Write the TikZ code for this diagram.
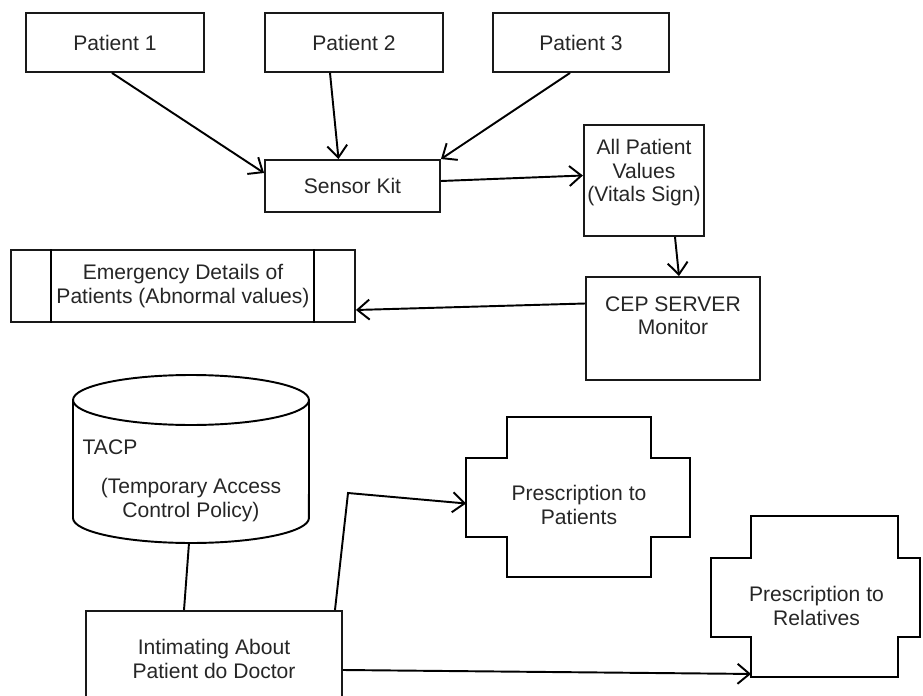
\documentclass[tikz,border=0pt]{standalone}
\usepackage{fontspec}
\setmainfont{Liberation Sans}
\usepackage{tikz}
\usetikzlibrary{arrows.meta}
\tikzset{>={Straight Barb[length=2.4mm,width=4mm]}, every path/.style={line width=1.1pt},
	arr/.style={draw,->}}
\tikzstyle{box}=[rectangle,draw=black!90,line width=1.1pt,inner sep=2pt,align=center,text=black!85,font=\fontsize{12}{13.5}\selectfont]
\tikzstyle{plain}=[rectangle,inner sep=2pt,align=center,text=black!85,font=\fontsize{12}{13.5}\selectfont]

\begin{document}
\begin{tikzpicture}[x=0.02cm,y=-0.02cm]
	\useasboundingbox (0,0) rectangle (923,696);
	% patients
	\node at (115,42.5) [box,minimum width=3.56cm,minimum height=1.18cm] (p1) {Patient 1};
	\node at (354,42.5) [box,minimum width=3.56cm,minimum height=1.18cm] (p2) {Patient 2};
	\node at (581,42.5) [box,minimum width=3.52cm,minimum height=1.18cm] (p3) {Patient 3};
	\node at (352.5,186) [box,minimum width=3.5cm,minimum height=1.04cm] (sensor) {Sensor Kit};
	\node at (644,180.5) [box,minimum width=2.4cm,minimum height=2.22cm,text depth=0.4cm] (values) {All Patient\\Values\\(Vitals Sign)};
	\node at (673,328.5) [box,minimum width=3.48cm,minimum height=2.06cm,text depth=0.52cm] (cep) {CEP SERVER\\Monitor};
	\node at (183,286) [box,minimum width=6.88cm,minimum height=1.44cm] (emg) {Emergency Details of\\Patients (Abnormal values)};
	\draw ([xshift=0.82cm]emg.north west) -- ([xshift=0.82cm]emg.south west);
	\draw ([xshift=-0.84cm]emg.north east) -- ([xshift=-0.84cm]emg.south east);
	% TACP store
	\draw (73,400) -- (73,518) arc[start angle=180,end angle=360,x radius=2.36cm,y radius=0.5cm] -- (309,400);
	\draw (191,400) ellipse [x radius=2.36cm,y radius=0.5cm];
	\coordinate (cylb) at (189,543);
	\node at (110,447) [plain] (tacp) {TACP};
	\node at (191,500) [plain] (policy) {(Temporary Access\\Control Policy)};
	\node at (214,659) [box,minimum width=5.12cm,minimum height=1.92cm] (intim) {Intimating About\\Patient do Doctor};
	% prescriptions
	\node at (579,498.5) [plain,minimum width=4.48cm,minimum height=1.58cm,text height=1.04cm] (rxp) {Prescription to\\Patients};
	\draw (rxp.north west) -- ++(41,0) -- ++(0,-41) -- ++(144,0) -- ++(0,41) -- ++(39,0)
		-- ++(0,79) -- ++(-39,0) -- ++(0,40) -- ++(-144,0) -- ++(0,-40) -- ++(-41,0) -- cycle;
	\node at (816.5,598.5) [plain,minimum width=4.18cm,minimum height=1.58cm,text height=1.08cm] (rxr) {Prescription to\\Relatives};
	\draw (rxr.north west) -- ++(40,0) -- ++(0,-42) -- ++(147,0) -- ++(0,42) -- ++(22,0)
		-- ++(0,79) -- ++(-22,0) -- ++(0,40) -- ++(-147,0) -- ++(0,-40) -- ++(-40,0) -- cycle;
	% connectors
	\draw[arr] ([xshift=-0.06cm]p1.south) -- ([yshift=0.26cm]sensor.west);
	\draw[arr] ([xshift=-0.48cm]p2.south) -- ([xshift=-0.28cm]sensor.north);
	\draw[arr] ([xshift=-0.22cm]p3.south) -- (sensor.north east);
	\draw[arr] ([yshift=0.1cm]sensor.east) -- ([yshift=0.1cm]values.west);
	\draw[arr] ([xshift=0.62cm]values.south) -- ([xshift=0.12cm]cep.north);
	\draw[arr] ([yshift=0.5cm]cep.west) -- ([yshift=-0.48cm]emg.east);
	\draw (cylb) -- ([xshift=-0.6cm]intim.north);
	\draw[arr] ([xshift=2.42cm]intim.north) -- (348,493) -- ([yshift=-0.1cm]rxp.west);
	\draw[arr] ([yshift=-0.22cm]intim.east) -- ([xshift=0.8cm,yshift=-0.7cm]rxr.south west);
\end{tikzpicture}
\end{document}
